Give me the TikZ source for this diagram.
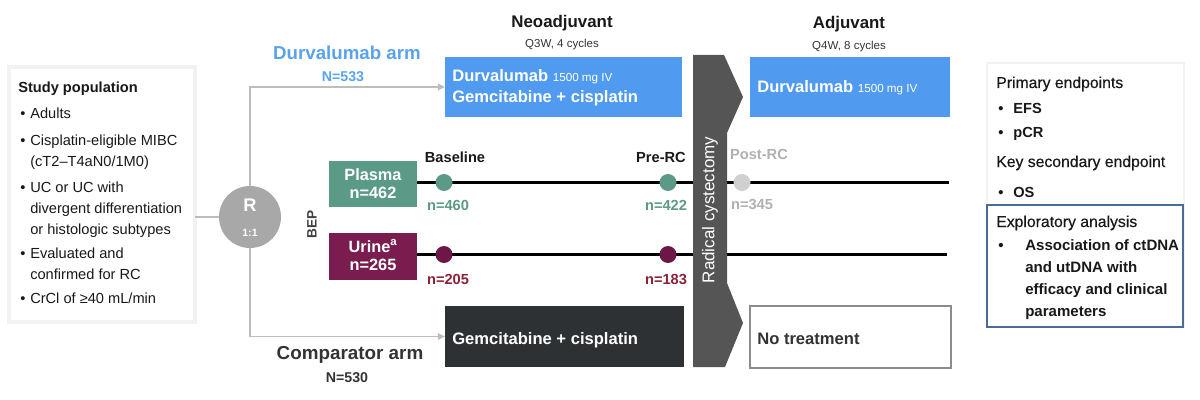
\documentclass[tikz,border=0pt]{standalone}
\usepackage{fontspec}
\setmainfont{Liberation Sans}
\newfontfamily\semib[FakeBold=0.4]{Liberation Sans}
\usetikzlibrary{arrows.meta}
\newcommand{\pxu}{0.025cm}
\newcommand{\fsz}[2]{\fontsize{#1pt}{#2pt}\selectfont}
\newcommand{\bul}{\makebox[7.1pt][l]{•}}
\definecolor{dblue}{HTML}{509BF0}
\definecolor{lblue}{HTML}{5AA2EE}
\definecolor{cteal}{HTML}{5B9A87}
\definecolor{cmaroon}{HTML}{7A1D4E}
\definecolor{cdot}{HTML}{6C1746}
\definecolor{cred}{HTML}{8A2238}
\definecolor{cchev}{HTML}{555555}
\definecolor{cdark}{HTML}{2E3133}
\definecolor{cline}{HTML}{BDBDBD}
\definecolor{cgray}{HTML}{B0B0B0}
\definecolor{cpost}{HTML}{D0D0D0}
\definecolor{cframe}{HTML}{4A6B96}
\definecolor{ctext}{HTML}{333333}
\definecolor{cR}{HTML}{A8A8A8}
\begin{document}
\begin{tikzpicture}[x=0.025cm,y=-0.025cm,
  box/.style={rectangle, inner sep=0pt, outer sep=0pt},
  shbox/.style={box, fill=white, draw=black!5, line width=2.5pt},
  lbl/.style={inner sep=0pt, anchor=base west},
  clbl/.style={inner sep=0pt, anchor=base},
  ptxt/.style={lbl, font=\fsz{10.4}{12}, text=black!90},
  rcirc/.style={circle, fill=cR, inner sep=0pt, minimum size=62*\pxu},
  tdot/.style={circle, inner sep=0pt, minimum size=17*\pxu},
  conn/.style={draw=cline, line width=1.1pt},
  arr/.style={-{Triangle[length=5pt,width=4.5pt]}},
  tline/.style={draw=black, line width=1.5pt}
]
\useasboundingbox (0,0) rectangle (1200,400);

% study population
\node[shbox, minimum width=186*\pxu, minimum height=255*\pxu] (pop) at (102,194.5) {};
\node[ptxt, font=\bfseries\fsz{10.4}{12}] (p0) at (18,93) {Study population};
\node[ptxt] (p1) at (20,119) {\bul Adults};
\node[ptxt] (p2) at (20,145) {\bul Cisplatin-eligible MIBC};
\node[ptxt] (p3) at (30,166) {(cT2–T4aN0/1M0)};
\node[ptxt] (p4) at (20,192) {\bul UC or UC with};
\node[ptxt] (p5) at (30,213) {divergent differentiation};
\node[ptxt] (p6) at (30,234) {or histologic subtypes};
\node[ptxt] (p7) at (20,258) {\bul Evaluated and};
\node[ptxt] (p8) at (30,279) {confirmed for RC};
\node[ptxt] (p9) at (20,303) {\bul CrCl of ≥40 mL/min};

% randomisation
\node[rcirc] (R) at (250,217) {};
\node[clbl, text=white, font=\bfseries\fsz{13}{13}] (Rt) at (250,211) {R};
\node[clbl, text=white, font=\bfseries\fsz{7.5}{8}] (Rr) at (250,236) {1:1};

% arm labels
\node[clbl, text=lblue, font=\bfseries\fsz{13.3}{14}] (darm) at (347,60) {Durvalumab arm};
\node[clbl, text=lblue, font=\bfseries\fsz{10.1}{12}] (dn) at (343,82) {N=533};
\node[clbl, text=ctext, font=\bfseries\fsz{13.4}{14}] (carm) at (350,359) {Comparator arm};
\node[clbl, text=ctext, font=\bfseries\fsz{10.1}{12}] (cn) at (347,382) {N=530};

% phase headers
\node[clbl, text=black!90, font=\bfseries\fsz{12}{14}] (neoh) at (562,28) {Neoadjuvant};
\node[clbl, text=black!80, font=\fsz{8.2}{10}] (neos) at (562,48) {Q3W, 4 cycles};
\node[clbl, text=black!90, font=\bfseries\fsz{12}{14}] (adjh) at (849,29) {Adjuvant};
\node[clbl, text=black!80, font=\fsz{8.2}{10}] (adjs) at (849,50) {Q4W, 8 cycles};

% treatment boxes
\node[box, fill=dblue, minimum width=237*\pxu, minimum height=60*\pxu] (neo) at (563.5,87) {};
\node[lbl, text=white, font=\bfseries\fsz{11.8}{14}] (neo1) at (452,82) {Durvalumab {\mdseries\fsz{8.3}{10}1500 mg IV}};
\node[lbl, text=white, font=\bfseries\fsz{11.8}{14}] (neo2) at (452,103) {Gemcitabine + cisplatin};

\node[box, fill=dblue, minimum width=200*\pxu, minimum height=60*\pxu] (adj) at (850,87) {};
\node[lbl, text=white, font=\bfseries\fsz{11.8}{14}] (adj1) at (757,93) {Durvalumab {\mdseries\fsz{8.3}{10}1500 mg IV}};

\node[box, fill=cdark, minimum width=239*\pxu, minimum height=61*\pxu] (gem) at (564.5,336.5) {};
\node[lbl, text=white, font=\bfseries\fsz{11.8}{14}] (gem1) at (452,344) {Gemcitabine + cisplatin};

\node[box, fill=white, draw=black!45, line width=0.9pt, minimum width=201*\pxu, minimum height=62*\pxu] (notr) at (850.5,337) {};
\node[lbl, text=ctext, font=\bfseries\fsz{11.8}{14}] (notr1) at (757,344) {No treatment};

% connectors
\draw[conn] (pop.east |- R) -- (R.west);
\draw[conn, arr] (R.north) |- (neo.west);
\draw[conn, arr] (R.south) |- (gem.west);

% BEP
\node[inner sep=0pt, rotate=90, text=black!75, font=\bfseries\fsz{9.7}{11}] (bep) at (312,224) {BEP};

\node[box, fill=cteal, minimum width=88*\pxu, minimum height=46*\pxu] (plasma) at (373,183.5) {};
\node[clbl, text=white, font=\bfseries\fsz{11.6}{13}] (pl1) at (373,180) {Plasma};
\node[clbl, text=white, font=\bfseries\fsz{11.6}{13}] (pl2) at (373,198) {n=462};

\node[box, fill=cmaroon, minimum width=88*\pxu, minimum height=47*\pxu] (urine) at (373,256) {};
\node[clbl, text=white, font=\bfseries\fsz{11.6}{13}] (ur1) at (373,252) {Urine\textsuperscript{a}};
\node[clbl, text=white, font=\bfseries\fsz{11.6}{13}] (ur2) at (373,270) {n=265};

% timelines
\coordinate (pend) at (949,182.5);
\coordinate (uend) at (947,254.5);
\draw[tline] (plasma.east |- pend) -- (pend);
\draw[tline] (urine.east |- uend) -- (uend);

% radical cystectomy chevron
\fill[cchev] (693,55) -- (724,55) -- (743,97) -- (727,133) -- (727,283) -- (743,323) -- (725,367) -- (693,367) -- cycle;
\node[inner sep=0pt, rotate=90, text=white, font=\fsz{12.1}{14}] (rc) at (710,210) {Radical cystectomy};

% dots
\node[tdot, fill=cteal] (pb) at (444,182.5) {};
\node[tdot, fill=cteal] (pp) at (668,182.5) {};
\node[tdot, fill=cpost] (ppost) at (742,182.5) {};
\node[tdot, fill=cdot] (ub) at (444,254.5) {};
\node[tdot, fill=cdot] (up) at (668,254.5) {};

% timepoint labels
\node[clbl, text=black!90, font=\bfseries\fsz{10.4}{12}] (tb) at (455,162) {Baseline};
\node[clbl, text=black!90, font=\bfseries\fsz{10.4}{12}] (tp) at (661,162) {Pre-RC};
\node[clbl, text=cgray, font=\bfseries\fsz{10.4}{12}] (tpo) at (759,160) {Post-RC};
\node[clbl, text=cteal, font=\bfseries\fsz{10.4}{12}] (n1) at (448,210) {n=460};
\node[clbl, text=cteal, font=\bfseries\fsz{10.4}{12}] (n2) at (666,210) {n=422};
\node[clbl, text=cgray, font=\bfseries\fsz{10.4}{12}] (n3) at (752,209) {n=345};
\node[clbl, text=cred, font=\bfseries\fsz{10.4}{12}] (n4) at (448,284) {n=205};
\node[clbl, text=cred, font=\bfseries\fsz{10.4}{12}] (n5) at (666,284) {n=183};

% endpoints
\node[box, fill=white, draw=black!5, line width=2pt, minimum width=197*\pxu, minimum height=264*\pxu] (ep) at (1085.5,195) {};
\node[box, draw=cframe, line width=1.1pt, minimum width=196*\pxu, minimum height=122*\pxu] (ex) at (1085,266) {};
\node[lbl, text=black!90, font=\semib\fsz{11.2}{13}] (e0) at (996,88) {Primary endpoints};
\node[lbl, text=black!90, font=\bfseries\fsz{10.4}{12}] (e1) at (998,114) {\makebox[10.7pt][l]{•}EFS};
\node[lbl, text=black!90, font=\bfseries\fsz{10.4}{12}] (e2) at (998,138) {\makebox[10.7pt][l]{•}pCR};
\node[lbl, text=black!90, font=\semib\fsz{11.2}{13}] (e3) at (996,167) {Key secondary endpoint};
\node[lbl, text=black!90, font=\bfseries\fsz{10.4}{12}] (e4) at (998,197) {\makebox[10.7pt][l]{•}OS};
\node[lbl, text=black!90, font=\semib\fsz{11.2}{13}] (x0) at (996,227) {Exploratory analysis};
\node[lbl, text=black!90, font=\bfseries\fsz{10.7}{12}] (x1) at (998,250) {\makebox[19.2pt][l]{•}Association of ctDNA};
\node[lbl, text=black!90, font=\bfseries\fsz{10.7}{12}] (x2) at (1025,272) {and utDNA with};
\node[lbl, text=black!90, font=\bfseries\fsz{10.7}{12}] (x3) at (1025,294) {efficacy and clinical};
\node[lbl, text=black!90, font=\bfseries\fsz{10.7}{12}] (x4) at (1025,316) {parameters};
\end{tikzpicture}
\end{document}
